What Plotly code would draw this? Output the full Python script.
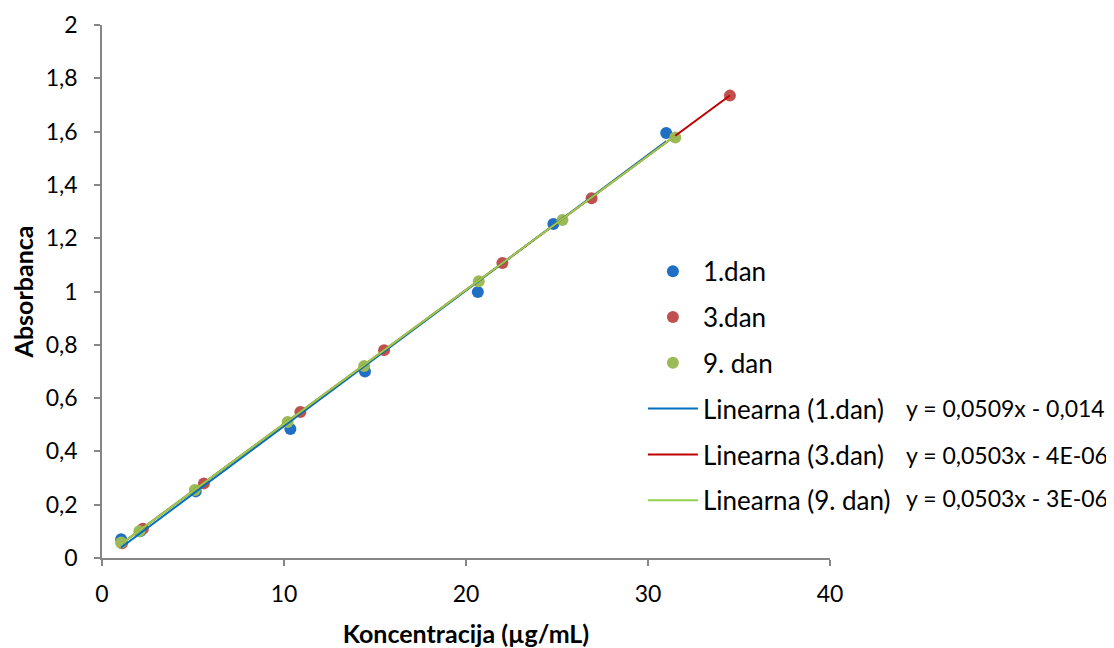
import plotly.graph_objects as go

# Data
x_day1 = [1.05, 2.1, 5.15, 10.35, 14.45, 20.65, 24.8, 31.0]
y_day1 = [0.070, 0.100, 0.250, 0.484, 0.700, 0.998, 1.253, 1.595]

x_day3 = [1.1, 2.25, 5.6, 10.9, 15.5, 22.0, 26.9, 34.5]
y_day3 = [0.055, 0.110, 0.280, 0.548, 0.780, 1.107, 1.350, 1.735]

x_day9 = [1.05, 2.05, 5.1, 10.2, 14.4, 20.7, 25.3, 31.5]
y_day9 = [0.058, 0.100, 0.255, 0.510, 0.720, 1.038, 1.268, 1.578]

series_names = ["1.dan", "3.dan", "9. dan"]
trend_names = ["Linearna (1.dan)", "Linearna (3.dan)", "Linearna (9. dan)"]
slopes = [0.0509, 0.0503, 0.0503]
intercepts = [-0.014, -0.000004, -0.000003]
equations = ["y = 0,0509x - 0,014", "y = 0,0503x - 4E-06", "y = 0,0503x - 3E-06"]

y_tickvals = [0, 0.2, 0.4, 0.6, 0.8, 1.0, 1.2, 1.4, 1.6, 1.8, 2.0]
y_ticktext = ["0", "0,2", "0,4", "0,6", "0,8", "1", "1,2", "1,4", "1,6", "1,8", "2"]
x_tickvals = [0, 10, 20, 30, 40]

marker_colors = ["#1F6FC5", "#C0504D", "#9BBB59"]
line_colors = ["#0070C0", "#C00000", "#92D050"]

FONT = "Lato, 'Open Sans', sans-serif"

fig = go.Figure()
xs = [x_day1, x_day3, x_day9]
ys = [y_day1, y_day3, y_day9]
for i in range(3):
    fig.add_trace(go.Scatter(
        x=xs[i], y=ys[i], mode="markers", name=series_names[i],
        legendgroup="g%d" % i,
        marker=dict(color=marker_colors[i], size=12, line=dict(width=0)),
    ))
for i in range(3):
    x0, x1 = min(xs[i]), max(xs[i])
    fig.add_trace(go.Scatter(
        x=[x0, x1], y=[slopes[i] * x0 + intercepts[i], slopes[i] * x1 + intercepts[i]],
        mode="lines", name=trend_names[i], legendgroup="t%d" % i,
        line=dict(color=line_colors[i], width=2),
    ))

for i, eq in enumerate(equations):
    fig.add_annotation(
        text=eq, xref="paper", yref="paper", x=1.102, y=[0.281, 0.193, 0.112][i],
        xanchor="left", yanchor="middle", showarrow=False,
        font=dict(family=FONT, size=23, color="#000000"),
    )

fig.update_layout(
    width=1106, height=640,
    margin=dict(l=94, r=284, t=17, b=90, autoexpand=False),
    paper_bgcolor="white", plot_bgcolor="white",
    font=dict(family=FONT, size=22, color="#000000"),
    showlegend=True,
    legend=dict(
        x=0.743, y=0.582, xanchor="left", yanchor="top",
        font=dict(family=FONT, size=26, color="#000000"),
        tracegroupgap=9, itemwidth=50, bgcolor="rgba(0,0,0,0)",
    ),
    xaxis=dict(
        range=[0, 40], tickvals=x_tickvals, ticktext=[str(v) for v in x_tickvals],
        showline=True, linecolor="#868686", linewidth=1.5,
        ticks="outside", tickcolor="#868686", ticklen=6, tickwidth=1.5,
        ticklabelstandoff=9, automargin=False,
        showgrid=False, zeroline=False,
        tickfont=dict(family=FONT, size=23),
        title=dict(text="<b>Koncentracija (µg/mL)</b>", font=dict(family=FONT, size=25), standoff=20),
    ),
    yaxis=dict(
        range=[0, 2], tickvals=y_tickvals, ticktext=y_ticktext,
        showline=True, linecolor="#868686", linewidth=1.5,
        ticks="outside", tickcolor="#868686", ticklen=6, tickwidth=1.5,
        ticklabelstandoff=12, automargin=False,
        showgrid=False, zeroline=False,
        tickfont=dict(family=FONT, size=23),
        title=dict(text="<b>Absorbanca</b>", font=dict(family=FONT, size=25), standoff=11),
    ),
)

fig.write_html("out.html")
